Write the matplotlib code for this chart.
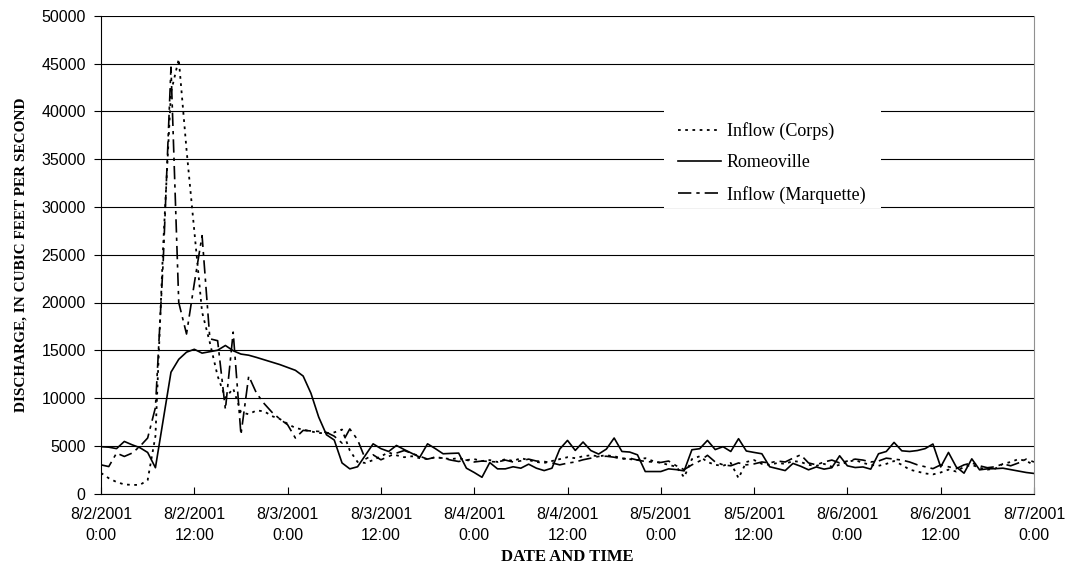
import numpy as np
import matplotlib
matplotlib.use("Agg")
import matplotlib.pyplot as plt
from matplotlib.patches import Rectangle

# hourly readings, 8/2/2001 0:00 to 8/7/2001 0:00
hours = np.arange(121)

romeoville = [4900, 4850, 4700, 5450, 5100, 4800, 4300, 2700, 7700, 12700,
              14050, 14800, 15100, 14700, 14850, 15000, 15500, 14950, 14600, 14480,
              14250, 14000, 13750, 13500, 13200, 12900, 12300, 10500, 8000, 6150,
              5600, 3200, 2580, 2800, 4000, 5200, 4700, 4400, 5030, 4600,
              4200, 3800, 5200, 4700, 4160, 4200, 4230, 2650, 2200, 1700,
              3240, 2580, 2580, 2800, 2650, 3070, 2650, 2400, 2650, 4650,
              5560, 4510, 5390, 4500, 4130, 4650, 5810, 4400, 4340, 4050,
              2300, 2300, 2300, 2580, 2500, 2370, 4580, 4690, 5560, 4600,
              4900, 4400, 5740, 4450, 4300, 4160, 2800, 2600, 2400, 3150,
              2850, 2480, 2780, 2550, 2700, 3950, 2900, 2720, 2780, 2550,
              4160, 4400, 5350, 4470, 4400, 4500, 4700, 5180, 2780, 4300,
              2780, 2130, 3630, 2480, 2580, 2600, 2650, 2500, 2350, 2200,
              2100]

corps = [2150, 1600, 1200, 950, 900, 900, 1400, 6000, 26000, 42000,
         45500, 36000, 27500, 19000, 15800, 12300, 10000, 11000, 8500, 8300,
         8700, 8600, 8100, 7800, 7300, 6860, 6690, 6500, 6340, 6300,
         6400, 6700, 4500, 3300, 3200, 3500, 3900, 4300, 4000, 3800,
         3900, 3700, 3600, 3800, 3700, 3600, 3700, 3500, 3600, 3400,
         3500, 3300, 3600, 3400, 3700, 3500, 3300, 3200, 3400, 3600,
         3800, 3700, 3900, 4000, 3900, 4000, 3900, 3700, 3600, 3500,
         3700, 3400, 3200, 3000, 2800, 1700, 3600, 3900, 3300, 3000,
         2900, 3200, 1600, 3300, 3500, 3100, 3000, 3200, 3100, 3400,
         3300, 3000, 2900, 3100, 2800, 3000, 3300, 3500, 3200, 3000,
         2900, 3100, 3400, 3000, 2500, 2300, 2100, 2000, 2200, 2500,
         2300, 2800, 3000, 2700, 2500, 2600, 3100, 3300, 3600, 3400,
         3000]

marquette = [3000, 2820, 4230, 3880, 4230, 4930, 5810, 9000, 24300, 44650,
             20000, 16700, 22000, 27000, 16200, 16000, 8800, 16900, 6160, 12300,
             10500, 9400, 8500, 7800, 7200, 5810, 6610, 6550, 6500, 6400,
             6000, 5280, 6760, 5630, 3600, 4050, 3530, 3880, 4230, 4500,
             4200, 3900, 3600, 3800, 3700, 3500, 3350, 3500, 3300, 3400,
             3350, 3300, 3500, 3300, 3420, 3600, 3400, 3350, 3200, 3000,
             3180, 3300, 3530, 3700, 3880, 3900, 3800, 3600, 3700, 3500,
             3350, 3300, 3250, 3400, 2900, 2500, 3000, 3400, 4000, 3300,
             3000, 2900, 3200, 3000, 3100, 3300, 3200, 3400, 3300, 3700,
             4050, 3200, 3000, 3300, 3500, 3200, 3400, 3600, 3500, 3300,
             3400, 3700, 3600, 3500, 3300, 3000, 2800, 2600, 3000, 2800,
             2600, 3000, 3200, 2900, 2700, 2800, 3100, 2900, 3200, 3600,
             3300]

tick_hours = [0, 12, 24, 36, 48, 60, 72, 84, 96, 108, 120]
tick_labels = ["8/2/2001\n0:00", "8/2/2001\n12:00", "8/3/2001\n0:00", "8/3/2001\n12:00",
               "8/4/2001\n0:00", "8/4/2001\n12:00", "8/5/2001\n0:00", "8/5/2001\n12:00",
               "8/6/2001\n0:00", "8/6/2001\n12:00", "8/7/2001\n0:00"]

W, H = 1071, 565
fig = plt.figure(figsize=(W / 100, H / 100), dpi=100)
ax = fig.add_axes([101 / W, 1 - 493.5 / H, (1034 - 101) / W, (493.5 - 16) / H])

ax.plot(hours, corps, color="black", lw=1.3, ls=(0, (1.5, 2.5)), label="Inflow (Corps)")
ax.plot(hours, romeoville, color="black", lw=1.2, ls="-", label="Romeoville")
ax.plot(hours, marquette, color="black", lw=1.2, ls=(0, (8, 3, 2, 3)), label="Inflow (Marquette)")

ax.set_xlim(0, 120)
ax.set_ylim(0, 50000)
ax.set_yticks(np.arange(0, 50001, 5000))
ax.set_xticks(tick_hours)
ax.set_xticklabels(tick_labels, linespacing=1.5)
ax.yaxis.grid(True, color="black", lw=0.8)
ax.set_axisbelow(True)

ax.spines["top"].set_visible(False)
ax.spines["right"].set_color("#909090")
ax.tick_params(axis="x", direction="in", length=5, pad=10, labelsize=11.5)
ax.tick_params(axis="y", direction="out", length=5, pad=6, labelsize=11.5)
for lab in ax.get_xticklabels() + ax.get_yticklabels():
    lab.set_family("Liberation Sans")

fig.text(567 / W, 1 - 557 / H, "DATE AND TIME", family="Liberation Serif", weight="bold",
         fontsize=12, ha="center", va="center")
ax.set_ylabel("DISCHARGE, IN CUBIC FEET PER SECOND", family="Liberation Serif",
              weight="bold", fontsize=11, labelpad=10)

# white legend box that hides the grid
ax.add_patch(Rectangle((664 / W, 1 - 208 / H), (881 - 664) / W, (208 - 75) / H,
                       transform=fig.transFigure, facecolor="white", edgecolor="none", zorder=3))
leg = ax.legend(loc="upper left", bbox_to_anchor=(669 / W, 1 - 113 / H),
                bbox_transform=fig.transFigure, frameon=False, borderpad=0,
                handlelength=2.4, handletextpad=0.3, labelspacing=0.8,
                prop={"family": "Liberation Serif", "size": 13})
leg.set_zorder(4)

fig.savefig("out.png", dpi=100)
